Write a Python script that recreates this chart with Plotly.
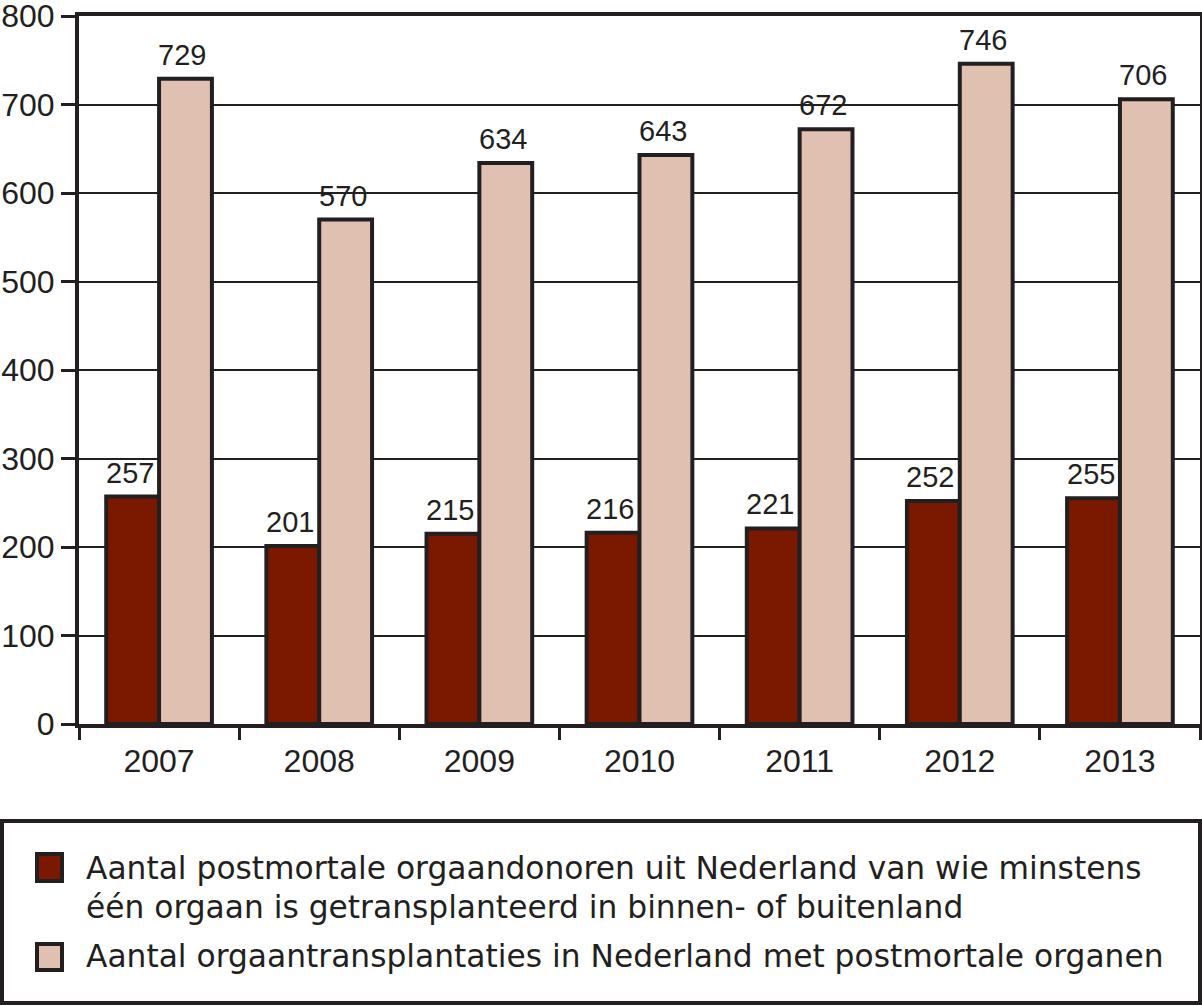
import plotly.graph_objects as go

years = ["2007", "2008", "2009", "2010", "2011", "2012", "2013"]
donors = [257, 201, 215, 216, 221, 252, 255]
transplants = [729, 570, 634, 643, 672, 746, 706]
legend_donors = ["Aantal postmortale orgaandonoren uit Nederland van wie minstens",
                 "één orgaan is getransplanteerd in binnen- of buitenland"]
legend_transplants = "Aantal orgaantransplantaties in Nederland met postmortale organen"
y_ticks = [0, 100, 200, 300, 400, 500, 600, 700, 800]

DARK = "#7b1800"
LIGHT = "#e0c0b0"
INK = "#231f20"
FONT = "Liberation Sans, Arial, sans-serif"
LEGFONT = "DejaVu Sans, sans-serif"

W, H = 1202, 1006
L, R, T, B = 79, 2, 16, 282
PW, PH = W - L - R, H - T - B
BARGAP = 0.34
HALF = PW / len(years) * (1 - BARGAP) / 4  # offset of each bar centre from category centre


def px(x):
    return (x - L) / PW


def py(y):
    return (H - B - y) / PH


fig = go.Figure()
fig.add_trace(go.Bar(x=years, y=donors, marker=dict(color=DARK, line=dict(color=INK, width=4)),
                     showlegend=False))
fig.add_trace(go.Bar(x=years, y=transplants, marker=dict(color=LIGHT, line=dict(color=INK, width=4)),
                     showlegend=False))

shapes = []
annotations = []
for series, shift in [(donors, -HALF), (transplants, HALF)]:
    for i, v in enumerate(series):
        annotations.append(dict(text=str(v), x=i, y=v, xref="x", yref="y", xshift=shift - 3, yshift=6,
                                xanchor="center", yanchor="bottom", showarrow=False,
                                font=dict(size=29, color=INK, family=FONT)))

# legend box
shapes.append(dict(type="rect", xref="paper", yref="paper", x0=px(2), x1=px(1200), y0=py(1003), y1=py(821),
                   line=dict(color=INK, width=4), fillcolor="rgba(0,0,0,0)"))
# legend swatches
for (y0, y1, col) in [(854, 881, DARK), (944, 970, LIGHT)]:
    shapes.append(dict(type="rect", xref="paper", yref="paper", x0=px(37), x1=px(62), y0=py(y1), y1=py(y0),
                       line=dict(color=INK, width=4), fillcolor=col))
for text, yc in [(legend_donors[0], 868), (legend_donors[1], 907), (legend_transplants, 956)]:
    annotations.append(dict(text=text, xref="paper", yref="paper", x=px(84), y=py(yc), xanchor="left",
                            yanchor="middle", showarrow=False, font=dict(size=31.3, color=INK, family=LEGFONT)))

fig.update_layout(
    width=W, height=H,
    margin=dict(l=L, r=R, t=T, b=B, autoexpand=False),
    paper_bgcolor="white", plot_bgcolor="white",
    barmode="group", bargap=BARGAP, bargroupgap=0,
    font=dict(family=FONT, color=INK, size=32),
    shapes=shapes, annotations=annotations,
    showlegend=False,
)
fig.update_xaxes(type="category", range=[-0.5, len(years) - 0.5], autorange=False, automargin=False,
                 showline=True, linecolor=INK, linewidth=4, mirror=True,
                 ticks="outside", tickson="boundaries", ticklen=12, tickwidth=3, tickcolor=INK,
                 ticklabelstandoff=6, tickangle=0,
                 tickfont=dict(size=32, color=INK, family=FONT), showgrid=False)
fig.update_yaxes(range=[0, 800], tickvals=y_ticks, automargin=False,
                 showline=True, linecolor=INK, linewidth=4, mirror=True,
                 ticks="outside", ticklen=14, tickwidth=3, tickcolor=INK, ticklabeloverflow="allow",
                 showgrid=True, gridcolor=INK, gridwidth=2, zeroline=False,
                 tickfont=dict(size=32, color=INK, family=FONT))

fig.write_html("out.html")
